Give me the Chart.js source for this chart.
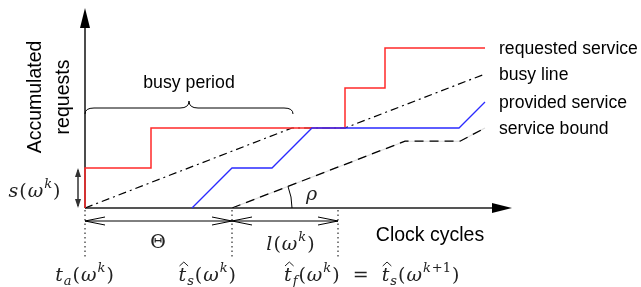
<!DOCTYPE html>
<html>
<head>
<meta charset="utf-8">
<script src="https://cdn.jsdelivr.net/npm/chart.js@4.4.1/dist/chart.umd.min.js"></script>
<style>
  html, body { margin: 0; background: #fff; }
  #wrap { width: 641px; height: 287px; position: relative; }
</style>
</head>
<body>
<div id="wrap"><canvas id="chart"></canvas></div>
<script>
// time in clock cycles (x), accumulated requests (y)
const reqX = [0, 0, 6.6, 6.6, 26, 26, 30, 30, 40];
const reqY = [0, 1, 1, 2, 2, 3, 3, 4, 4];
const busyX = [0, 20.7, 26, 40];
const busyY = [0, 2, 2, 3.35];
const provX = [10.7, 14.7, 18.7, 22.7, 37.4, 40];
const provY = [0, 1, 1, 2, 2, 2.65];
const boundX = [14.7, 32, 37.5, 40];
const boundY = [0, 1.67, 1.67, 2];
const seriesLabels = ['requested service', 'busy line', 'provided service', 'service bound'];

// marks on the time axis
const tA = 0, tS = 14.7, tF = 25.3;
const busyEnd = 20.7;
const sK = 1;

const pts = (xs, ys) => xs.map((x, i) => ({ x: x, y: ys[i] }));

const SANS = '"Liberation Sans", Arial, sans-serif';
const SERIF = '"DejaVu Serif", "Liberation Serif", serif';

// small math label drawer: [text, style]
// r roman, i italic, h italic with hat, ki/kr superscript, si subscript
function mathText(ctx, parts, x, y, align) {
  const base = 19, small = 13, gap = 1;
  const font = s => {
    const it = (s === 'r' || s === 'kr') ? '' : 'italic ';
    const sz = (s === 'ki' || s === 'kr' || s === 'si') ? small : base;
    return it + sz + 'px ' + SERIF;
  };
  let w = 0;
  parts.forEach(p => { ctx.font = font(p[1]); w += ctx.measureText(p[0]).width + gap; });
  let cx = align === 'center' ? x - w / 2 : (align === 'right' ? x - w : x);
  ctx.textAlign = 'left';
  ctx.textBaseline = 'alphabetic';
  parts.forEach(p => {
    ctx.font = font(p[1]);
    let dy = 0;
    if (p[1] === 'ki' || p[1] === 'kr') dy = -9;
    if (p[1] === 'si') dy = 4;
    ctx.fillText(p[0], cx, y + dy);
    const tw = ctx.measureText(p[0]).width;
    if (p[1] === 'h') {
      ctx.beginPath();
      ctx.lineWidth = 1;
      ctx.moveTo(cx + 1, y - 15);
      ctx.lineTo(cx + tw / 2 + 1.5, y - 19);
      ctx.lineTo(cx + tw + 2, y - 15);
      ctx.stroke();
    }
    cx += tw + gap;
  });
}

function openHead(ctx, x, y, dir) {
  ctx.beginPath();
  ctx.moveTo(x + dir * 20, y - 4);
  ctx.lineTo(x, y);
  ctx.lineTo(x + dir * 20, y + 4);
  ctx.stroke();
}

const diagramPlugin = {
  id: 'diagram',
  beforeDatasetsDraw(chart) {
    const { ctx, scales: { x, y } } = chart;
    const x0 = x.getPixelForValue(0), y0 = y.getPixelForValue(0);
    const xTop = x.getPixelForValue(x.max), yTop = y.getPixelForValue(y.max);
    ctx.save();
    ctx.strokeStyle = '#111';
    ctx.lineWidth = 1.5;
    ctx.beginPath(); ctx.moveTo(x0, y0); ctx.lineTo(x0, yTop + 18); ctx.stroke();
    ctx.strokeStyle = '#555';
    ctx.lineWidth = 2;
    ctx.beginPath(); ctx.moveTo(x0, y0); ctx.lineTo(xTop - 18, y0); ctx.stroke();
    ctx.fillStyle = '#000';
    ctx.beginPath(); ctx.moveTo(x0, yTop); ctx.lineTo(x0 - 5, yTop + 20); ctx.lineTo(x0 + 5, yTop + 20); ctx.closePath(); ctx.fill();
    ctx.beginPath(); ctx.moveTo(xTop, y0); ctx.lineTo(xTop - 20, y0 - 5); ctx.lineTo(xTop - 20, y0 + 5); ctx.closePath(); ctx.fill();
    ctx.restore();
  },
  afterDatasetsDraw(chart) {
    const { ctx, scales: { x, y } } = chart;
    const px = v => x.getPixelForValue(v);
    const py = v => y.getPixelForValue(v);
    const x0 = px(0), y0 = py(0);
    ctx.save();

    // dotted time marks
    ctx.strokeStyle = '#000';
    ctx.lineWidth = 1;
    ctx.setLineDash([1.5, 3]);
    [tA, tS, tF].forEach(t => {
      ctx.beginPath(); ctx.moveTo(px(t), y0 + 2); ctx.lineTo(px(t), y0 + 50); ctx.stroke();
    });
    ctx.setLineDash([]);

    // interval arrows
    const ya = y0 + 13;
    ctx.strokeStyle = '#000';
    ctx.lineWidth = 1;
    ctx.beginPath(); ctx.moveTo(px(tA), ya); ctx.lineTo(px(tF), ya); ctx.stroke();
    openHead(ctx, px(tA), ya, 1);
    openHead(ctx, px(tS), ya, -1);
    openHead(ctx, px(tS), ya, 1);
    openHead(ctx, px(tF), ya, -1);

    // s(w^k) arrow
    const xs = x0 - 7;
    ctx.strokeStyle = '#333';
    ctx.fillStyle = '#333';
    ctx.lineWidth = 1.5;
    ctx.beginPath(); ctx.moveTo(xs, py(sK) + 2); ctx.lineTo(xs, y0 - 2); ctx.stroke();
    ctx.beginPath(); ctx.moveTo(xs, py(sK)); ctx.lineTo(xs - 3, py(sK) + 9); ctx.lineTo(xs + 3, py(sK) + 9); ctx.closePath(); ctx.fill();
    ctx.beginPath(); ctx.moveTo(xs, y0); ctx.lineTo(xs - 3, y0 - 9); ctx.lineTo(xs + 3, y0 - 9); ctx.closePath(); ctx.fill();

    // rho arc
    const ang = Math.atan2(py(0) - py(boundY[1]), px(boundX[1]) - px(boundX[0]));
    ctx.strokeStyle = '#000';
    ctx.lineWidth = 1;
    ctx.beginPath(); ctx.arc(px(tS), y0, 60, -ang, 0); ctx.stroke();

    // busy period brace
    const bl = px(0), br = px(busyEnd) + 1, bm = (bl + br) / 2, by = 108;
    ctx.beginPath();
    ctx.moveTo(bl, by + 6);
    ctx.quadraticCurveTo(bl, by, bl + 9, by);
    ctx.lineTo(bm - 9, by);
    ctx.quadraticCurveTo(bm, by, bm, by - 7);
    ctx.quadraticCurveTo(bm, by, bm + 9, by);
    ctx.lineTo(br - 9, by);
    ctx.quadraticCurveTo(br, by, br, by + 6);
    ctx.stroke();

    // sans texts
    ctx.fillStyle = '#000';
    ctx.textBaseline = 'middle';
    ctx.textAlign = 'center';
    ctx.font = '17.7px ' + SANS;
    ctx.fillText('busy period', bm, 83);
    ctx.font = '19.5px ' + SANS;
    ctx.fillText('Clock cycles', 430, 236);
    ctx.save();
    ctx.translate(36, 97);
    ctx.rotate(-Math.PI / 2);
    ctx.fillText('Accumulated', 0, 0);
    ctx.fillText('requests', 0, 28);
    ctx.restore();

    // series labels next to line ends
    ctx.font = '17.6px ' + SANS;
    ctx.textAlign = 'left';
    ctx.textBaseline = 'middle';
    const ends = [[reqX, reqY], [busyX, busyY], [provX, provY], [boundX, boundY]];
    ends.forEach((e, i) => {
      const n = e[0].length - 1;
      ctx.fillText(seriesLabels[i], px(e[0][n]) + 14, py(e[1][n]) + 1);
    });

    // math labels
    ctx.fillStyle = '#222';
    ctx.strokeStyle = '#222';
    mathText(ctx, [['s', 'i'], ['(', 'r'], ['ω', 'i'], ['k', 'ki'], [')', 'r']], 35, 197, 'center');
    mathText(ctx, [['Θ', 'r']], px((tA + tS) / 2), 248, 'center');
    mathText(ctx, [['l', 'i'], ['(', 'r'], ['ω', 'i'], ['k', 'ki'], [')', 'r']], 291, 250, 'center');
    mathText(ctx, [['ρ', 'i']], 312, 200, 'center');
    mathText(ctx, [['t', 'i'], ['a', 'si'], ['(', 'r'], ['ω', 'i'], ['k', 'ki'], [')', 'r']], px(tA), 281, 'center');
    mathText(ctx, [['t', 'h'], ['s', 'si'], ['(', 'r'], ['ω', 'i'], ['k', 'ki'], [')', 'r']], px(tS) + 5, 281, 'right');
    mathText(ctx, [['t', 'h'], ['f', 'si'], ['(', 'r'], ['ω', 'i'], ['k', 'ki'], [')', 'r'], ['  =  ', 'r'],
      ['t', 'h'], ['s', 'si'], ['(', 'r'], ['ω', 'i'], ['k', 'ki'], ['+1', 'kr'], [')', 'r']], 284, 281, 'left');

    ctx.restore();
  }
};

// first dataset is drawn on top
new Chart(document.getElementById('chart'), {
  type: 'line',
  data: {
    datasets: [
      { data: pts(provX, provY), borderColor: '#2a2aff', borderWidth: 1.3 },
      { data: pts(reqX, reqY), borderColor: '#ff2a2a', borderWidth: 1.5 },
      { data: pts(busyX, busyY), borderColor: '#000', borderWidth: 1.2, borderDash: [8, 4, 2, 4] },
      { data: pts(boundX, boundY), borderColor: '#000', borderWidth: 1.3, borderDash: [9, 6] },
      { data: pts(boundX, boundY), borderColor: '#dcdcdc', borderWidth: 1.1 }
    ]
  },
  plugins: [diagramPlugin],
  options: {
    responsive: true,
    maintainAspectRatio: false,
    animation: false,
    devicePixelRatio: 1,
    layout: { padding: { left: 85, right: 129, top: 8, bottom: 79 } },
    elements: { point: { radius: 0 }, line: { tension: 0, fill: false } },
    datasets: { line: { clip: false } },
    scales: {
      x: { type: 'linear', display: false, min: 0, max: 42.7 },
      y: { type: 'linear', display: false, min: 0, max: 5 }
    },
    plugins: { legend: { display: false }, tooltip: { enabled: false } }
  }
});
</script>
</body>
</html>
